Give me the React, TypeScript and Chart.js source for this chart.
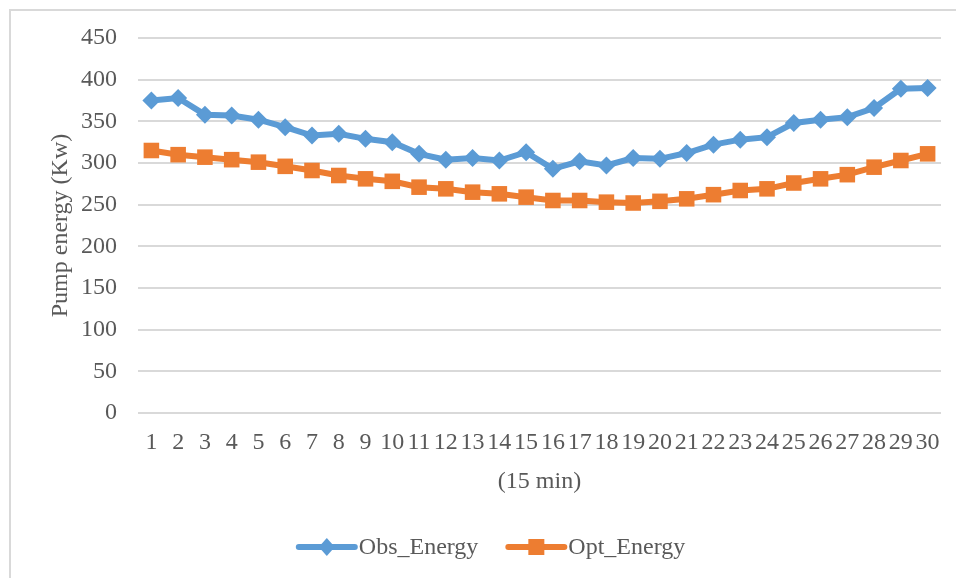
import React, { useEffect, useRef } from 'react';
import { Chart, registerables } from 'chart.js';

Chart.register(...registerables);

const categories = ['1', '2', '3', '4', '5', '6', '7', '8', '9', '10', '11', '12', '13', '14', '15', '16', '17', '18', '19', '20', '21', '22', '23', '24', '25', '26', '27', '28', '29', '30'];
const obsEnergy = [375, 378, 358, 357, 352, 343, 333, 335, 329, 325, 311, 304, 306, 303, 313, 293, 302, 297, 306, 305, 312, 322, 328, 331, 348, 352, 355, 366, 389, 390];
const optEnergy = [315, 310, 307, 304, 301, 296, 291, 285, 281, 278, 271, 269, 265, 263, 259, 255, 255, 253, 252, 254, 257, 262, 267, 269, 276, 281, 286, 295, 303, 311];
const seriesNames = ['Obs_Energy', 'Opt_Energy'];
const yTitle = 'Pump energy (Kw)';
const xTitle = '(15 min)';

const FONT = '"Liberation Serif", "Times New Roman", serif';
const TEXT = '#595959';
const BLUE = '#5b9bd5';
const ORANGE = '#ed7d31';

const legendPlugin = {
  id: 'lineMarkerLegend',
  afterDraw(chart: any) {
    const ctx = chart.ctx as CanvasRenderingContext2D;
    ctx.save();
    ctx.font = `24px ${FONT}`;
    const lineLen = 56;
    const gapText = 4;
    const gapItems = 30;
    const items = chart.data.datasets.map((ds: any) => ({
      label: ds.label,
      color: ds.borderColor,
      style: ds.pointStyle,
      w: ctx.measureText(ds.label).width,
    }));
    const total = items.reduce((s: number, it: any) => s + lineLen + gapText + it.w, 0) + gapItems * (items.length - 1);
    let x = 492 - total / 2;
    const y = 547;
    for (const it of items) {
      ctx.strokeStyle = it.color;
      ctx.lineWidth = 6;
      ctx.lineCap = 'round';
      ctx.beginPath();
      ctx.moveTo(x, y);
      ctx.lineTo(x + lineLen, y);
      ctx.stroke();
      const cx = x + lineLen / 2;
      ctx.fillStyle = it.color;
      ctx.beginPath();
      if (it.style === 'rectRot') {
        ctx.moveTo(cx, y - 9);
        ctx.lineTo(cx + 8, y);
        ctx.lineTo(cx, y + 9);
        ctx.lineTo(cx - 8, y);
        ctx.closePath();
        ctx.fill();
      } else {
        ctx.rect(cx - 8, y - 8, 16, 16);
        ctx.fill();
      }
      ctx.fillStyle = TEXT;
      ctx.textBaseline = 'middle';
      ctx.textAlign = 'left';
      ctx.fillText(it.label, x + lineLen + gapText, y + 1);
      x += lineLen + gapText + it.w + gapItems;
    }
    ctx.restore();
  },
};

export default function App() {
  const ref = useRef<HTMLCanvasElement>(null);
  useEffect(() => {
    if (!ref.current) return;
    const chart = new Chart(ref.current, {
      type: 'line',
      data: {
        labels: categories,
        datasets: [
          {
            label: seriesNames[0],
            data: obsEnergy,
            borderColor: BLUE,
            backgroundColor: BLUE,
            borderWidth: 6,
            pointStyle: 'rectRot',
            pointRadius: 9,
            pointBorderWidth: 0,
            pointBackgroundColor: BLUE,
            tension: 0,
          },
          {
            label: seriesNames[1],
            data: optEnergy,
            borderColor: ORANGE,
            backgroundColor: ORANGE,
            borderWidth: 6,
            pointStyle: 'rect',
            pointRadius: 11,
            pointBorderWidth: 0,
            pointBackgroundColor: ORANGE,
            tension: 0,
          },
        ],
      },
      options: {
        animation: false,
        responsive: false,
        maintainAspectRatio: false,
        layout: { padding: { left: 46, right: 15, top: 38, bottom: 82 } },
        plugins: {
          legend: { display: false },
          tooltip: { enabled: false },
        },
        scales: {
          x: {
            offset: true,
            grid: { display: false, drawTicks: false },
            border: { display: false },
            ticks: {
              autoSkip: false,
              maxRotation: 0,
              minRotation: 0,
              color: TEXT,
              font: { family: FONT, size: 24 },
              padding: 15,
            },
            title: {
              display: true,
              text: xTitle,
              color: TEXT,
              font: { family: FONT, size: 24 },
              padding: 0,
            },
            afterFit: (s: any) => {
              s.height = 83;
            },
          },
          y: {
            min: 0,
            max: 450,
            ticks: {
              stepSize: 50,
              color: TEXT,
              font: { family: FONT, size: 24 },
              padding: 21,
            },
            grid: { color: '#d9d9d9', lineWidth: 2, drawTicks: false },
            border: { display: false },
            title: {
              display: true,
              text: yTitle,
              color: TEXT,
              font: { family: FONT, size: 24 },
              padding: 0,
            },
            afterFit: (s: any) => {
              s.width = 92;
            },
          },
        },
      },
      plugins: [legendPlugin],
    });
    return () => chart.destroy();
  }, []);

  return (
    <div style={{ position: 'fixed', left: 0, top: 0, width: 956, height: 578, overflow: 'hidden', background: '#fff' }}>
      <div
        style={{
          position: 'absolute',
          left: 9,
          top: 9,
          width: 1000,
          height: 700,
          border: '2px solid #d9d9d9',
          boxSizing: 'border-box',
        }}
      />
      <canvas ref={ref} width={956} height={578} style={{ position: 'absolute', left: 0, top: 0, width: 956, height: 578 }} />
    </div>
  );
}
